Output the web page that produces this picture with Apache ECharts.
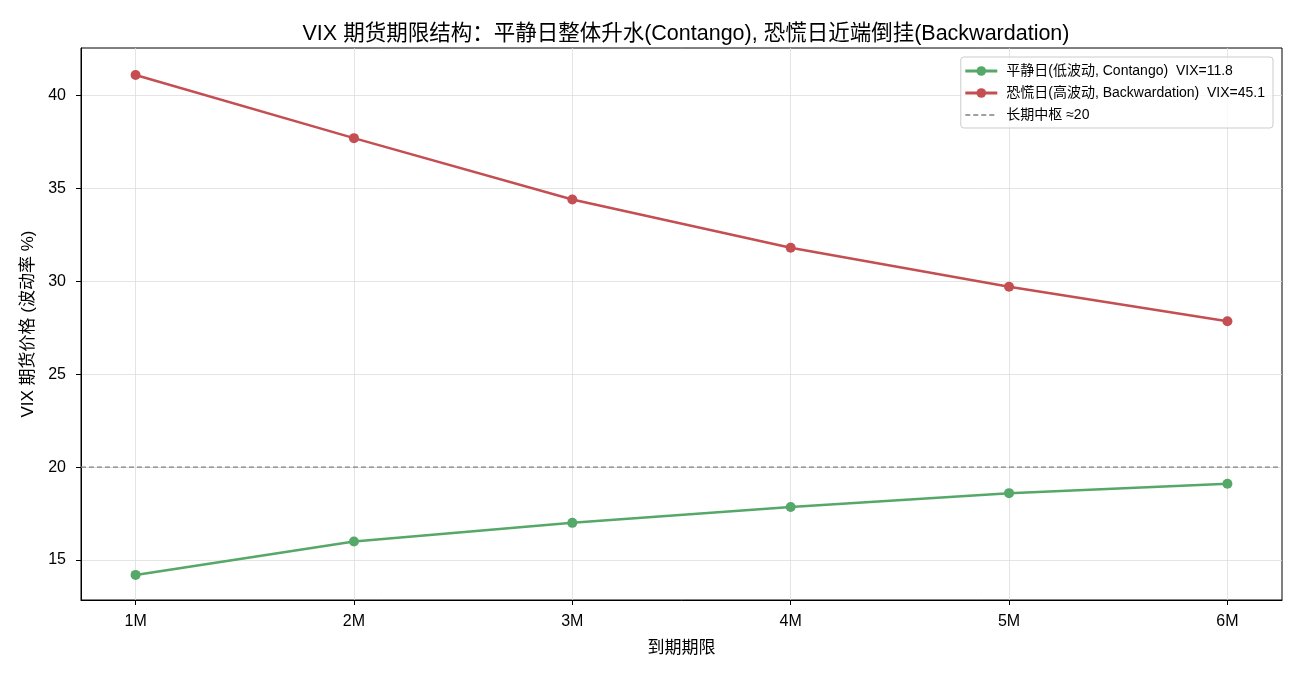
<!DOCTYPE html>
<html>
<head>
<meta charset="utf-8">
<script src="https://cdn.jsdelivr.net/npm/echarts@6/dist/echarts.min.js"></script>
<style>
  html, body { margin: 0; padding: 0; background: #fff; }
  #chart { width: 1300px; height: 676px; }
</style>
</head>
<body>
<div id="chart"></div>
<script>
const months = [1, 2, 3, 4, 5, 6];
const monthLabels = ["1M", "2M", "3M", "4M", "5M", "6M"];
const calmValues = [14.2, 16.0, 17.0, 17.85, 18.6, 19.1];
const panicValues = [41.1, 37.7, 34.4, 31.8, 29.7, 27.85];
const yTicks = [15, 20, 25, 30, 35, 40];
const longTermLevel = 20;

const calmName = "平静日(低波动, Contango)  VIX=11.8";
const panicName = "恐慌日(高波动, Backwardation)  VIX=45.1";
const levelName = "长期中枢 ≈20";

const font = "Liberation Sans, Arial, Noto Sans CJK SC, sans-serif";
const chart = echarts.init(document.getElementById("chart"));

chart.setOption({
  animation: false,
  textStyle: { fontFamily: font, color: "#000" },
  title: {
    text: "VIX 期货期限结构：平静日整体升水(Contango), 恐慌日近端倒挂(Backwardation)",
    left: 681,
    textAlign: "center",
    top: 18,
    textStyle: { fontSize: 21.5, fontWeight: "normal", color: "#000", fontFamily: font },
  },
  legend: {
    orient: "vertical",
    right: 27,
    top: 57,
    itemGap: 8,
    itemWidth: 32,
    itemHeight: 12,
    padding: [7, 8, 6, 3],
    borderColor: "#cccccc",
    borderWidth: 1,
    borderRadius: 3,
    backgroundColor: "rgba(255,255,255,0.8)",
    textStyle: { fontSize: 14, color: "#000", fontFamily: font, padding: [0, 0, 0, 4] },
    data: [
      { name: calmName, lineStyle: { width: 3 } },
      { name: panicName, lineStyle: { width: 3 } },
      { name: levelName, itemStyle: { color: "rgba(0,0,0,0)", borderWidth: 0 }, lineStyle: { color: "#808080", width: 1.5 } },
    ],
  },
  grid: {
    left: 81, right: 18, top: 48, bottom: 76,
    show: true, borderColor: "#000", borderWidth: 1,
  },
  xAxis: {
    type: "value",
    min: 0.75,
    max: 6.25,
    name: "到期期限",
    nameLocation: "middle",
    nameGap: 40,
    nameTextStyle: { fontSize: 17, color: "#000" },
    axisLine: { show: true, lineStyle: { color: "#000", width: 1 } },
    axisTick: { show: true, length: 5, customValues: months, lineStyle: { color: "#000" } },
    axisLabel: {
      customValues: months,
      fontSize: 16, color: "#000", margin: 14,
      formatter: v => monthLabels[months.indexOf(Math.round(v))] || "",
    },
    splitLine: { show: true, lineStyle: { color: "#dddddd", width: 0.8 } },
  },
  yAxis: {
    type: "value",
    min: 12.85,
    max: 42.55,
    name: "VIX 期货价格 (波动率 %)",
    nameLocation: "middle",
    nameGap: 40,
    nameTextStyle: { fontSize: 17, color: "#000" },
    axisLine: { show: true, lineStyle: { color: "#000", width: 1 } },
    axisTick: { show: true, length: 5, customValues: yTicks, lineStyle: { color: "#000" } },
    axisLabel: { customValues: yTicks, fontSize: 16, color: "#000", margin: 15 },
    splitLine: { show: true, lineStyle: { color: "#dddddd", width: 0.8 } },
  },
  series: [
    {
      name: calmName,
      type: "line",
      data: months.map((m, i) => [m, calmValues[i]]),
      symbol: "circle",
      symbolSize: 10,
      lineStyle: { width: 2.5, color: "#55a868" },
      itemStyle: { color: "#55a868" },
      z: 3,
    },
    {
      name: panicName,
      type: "line",
      data: months.map((m, i) => [m, panicValues[i]]),
      symbol: "circle",
      symbolSize: 10,
      lineStyle: { width: 2.5, color: "#c44e52" },
      itemStyle: { color: "#c44e52" },
      z: 3,
    },
    {
      name: levelName,
      type: "line",
      data: [[0.75, longTermLevel], [6.25, longTermLevel]],
      symbol: "none",
      lineStyle: { width: 1.2, color: "#808080", type: [5, 3] },
      itemStyle: { color: "#808080" },
      z: 2,
    },
  ],
});
</script>
</body>
</html>
